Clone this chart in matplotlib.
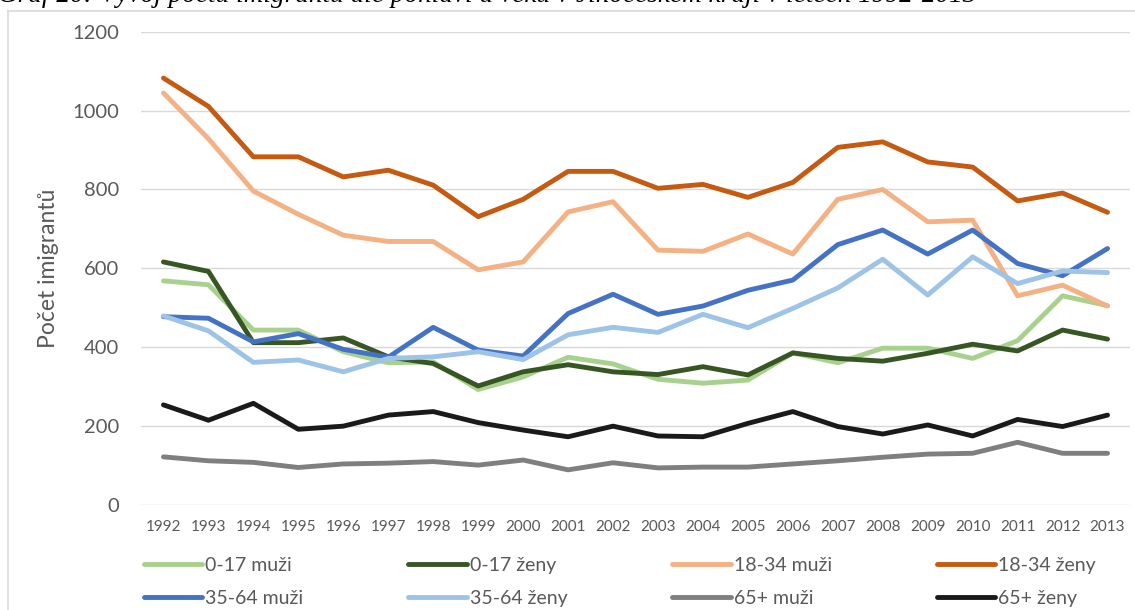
import matplotlib
matplotlib.use("Agg")
import matplotlib.pyplot as plt
from matplotlib.lines import Line2D

# roky a hodnoty
roky = list(range(1992, 2014))

m_0_17 = [568, 558, 443, 443, 388, 360, 362, 292, 324, 374, 357, 318, 308, 316, 385, 360, 397, 397, 371, 416, 530, 505]
z_0_17 = [616, 592, 411, 411, 423, 375, 358, 301, 337, 355, 337, 330, 350, 329, 385, 371, 364, 384, 407, 390, 443, 420]
m_18_34 = [1045, 929, 796, 737, 684, 668, 668, 596, 616, 743, 769, 646, 643, 687, 636, 775, 800, 718, 722, 530, 557, 504]
z_18_34 = [1083, 1011, 883, 883, 832, 849, 811, 731, 775, 846, 846, 803, 813, 780, 818, 907, 921, 870, 857, 771, 791, 742]
m_35_64 = [477, 473, 413, 434, 394, 374, 450, 392, 377, 485, 534, 483, 504, 544, 570, 660, 697, 636, 697, 612, 581, 650]
z_35_64 = [479, 441, 361, 367, 337, 371, 375, 388, 368, 431, 450, 437, 483, 449, 498, 550, 623, 532, 629, 561, 593, 589]
m_65 = [121, 111, 107, 94, 103, 105, 109, 100, 113, 88, 106, 93, 95, 95, 103, 111, 120, 128, 130, 158, 130, 130]
z_65 = [253, 214, 257, 191, 199, 227, 236, 208, 189, 172, 199, 174, 172, 206, 236, 198, 179, 202, 174, 216, 198, 227]

nazvy = ["0-17 muži", "0-17 ženy", "18-34 muži", "18-34 ženy",
         "35-64 muži", "35-64 ženy", "65+ muži", "65+ ženy"]
rady = [m_0_17, z_0_17, m_18_34, z_18_34, m_35_64, z_35_64, m_65, z_65]
barvy = ["#A9D18E", "#375623", "#F4B183", "#C55A11",
         "#4472C4", "#9DC3E6", "#7F7F7F", "#1A1A1A"]

plt.rcParams["font.family"] = ["Lato", "DejaVu Sans"]
seda = "#595959"

fig = plt.figure(figsize=(11.35, 6.1), dpi=100)
ax = fig.add_axes([141 / 1135, 1 - 504.5 / 610, 989 / 1135, 472.5 / 610])

x = range(len(roky))
cary = []
for rada, barva, nazev in zip(rady, barvy, nazvy):
    c, = ax.plot(x, rada, color=barva, lw=3.5, label=nazev,
                 solid_capstyle="round", solid_joinstyle="round")
    cary.append(c)

ax.set_xlim(-0.5, len(roky) - 0.5)
ax.set_ylim(0, 1200)
ax.set_yticks(range(0, 1201, 200))
ax.set_xticks(list(x))
ax.set_xticklabels([str(r) for r in roky])
ax.grid(axis="y", color="#D9D9D9", lw=1.0)
ax.set_axisbelow(True)
for s in ax.spines.values():
    s.set_visible(False)
ax.tick_params(axis="y", length=0, pad=16, labelsize=14.5, labelcolor=seda)
ax.tick_params(axis="x", length=0, pad=11, labelsize=11, labelcolor=seda)

ax.set_ylabel("Počet imigrantů", fontsize=16.5, color=seda)
ax.yaxis.set_label_coords(-0.083, 0.5)

# legenda: 2 řádky po 4 položkách (matplotlib plní po sloupcích)
poradi = [0, 4, 1, 5, 2, 6, 3, 7]
fig.legend([cary[i] for i in poradi], [nazvy[i] for i in poradi],
           ncol=4, loc="center left", bbox_to_anchor=(144 / 1135, 1 - 582 / 610),
           frameon=False, fontsize=14, labelcolor=seda,
           handlelength=3.0, handletextpad=0.15, columnspacing=5.4,
           labelspacing=0.8, borderpad=0, borderaxespad=0)

# rámeček grafu
fig.add_artist(Line2D([8 / 1135, 8 / 1135], [0, 1 - 11 / 610], transform=fig.transFigure,
                      color="#D9D9D9", lw=1.2))
fig.add_artist(Line2D([8 / 1135, 1], [1 - 11 / 610, 1 - 11 / 610], transform=fig.transFigure,
                      color="#D9D9D9", lw=1.2))

# oříznutý nadpis nahoře
fig.text(-0.002, 1 - 2 / 610,
         "Graf 20: Vývoj počtu imigrantů dle pohlaví a věku v Jihočeském kraji v letech 1992-2013",
         family=["Liberation Serif", "DejaVu Serif"], style="italic", fontsize=19.6,
         va="baseline", ha="left", color="black")

fig.savefig("out.png", dpi=100)
